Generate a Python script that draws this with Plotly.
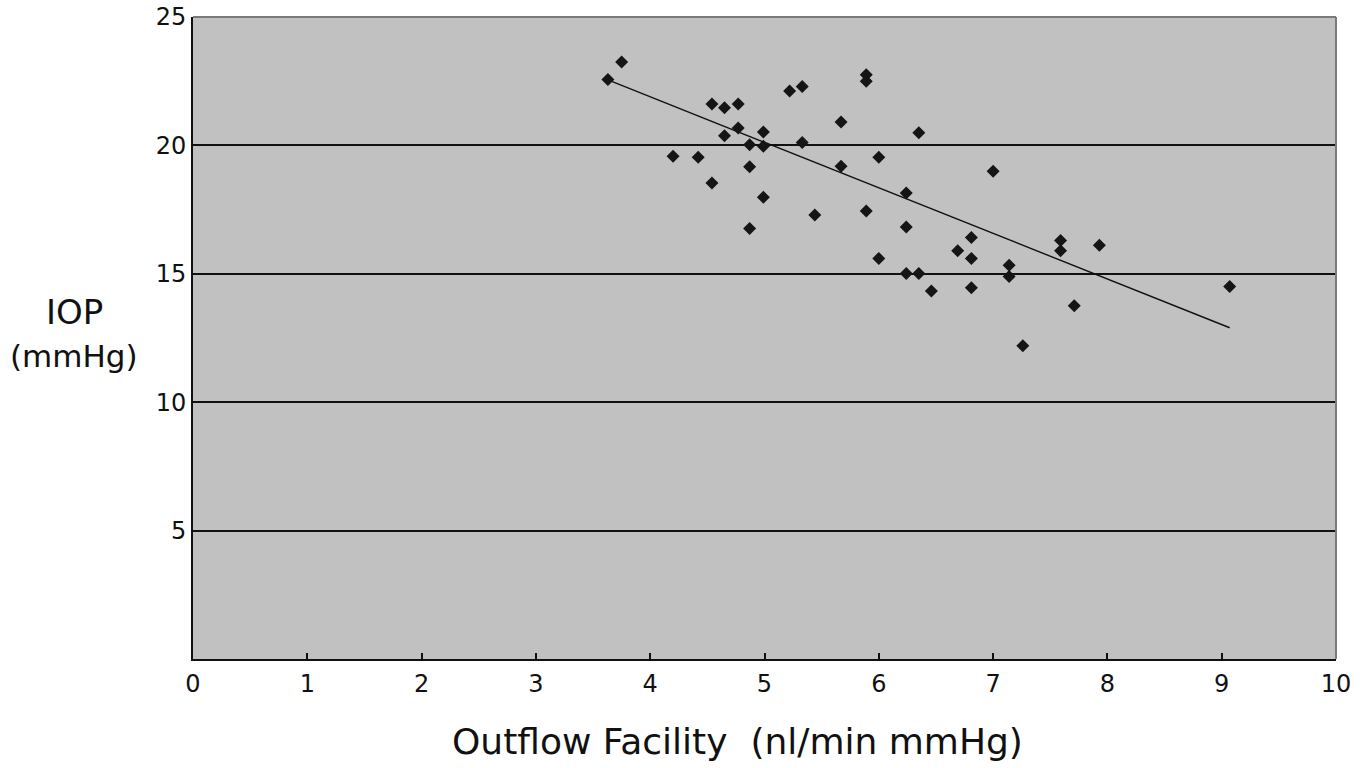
import plotly.graph_objects as go

# Outflow facility (nl/min mmHg)
facility = [3.63, 3.75, 4.20, 4.42, 4.54, 4.54, 4.65, 4.65, 4.77, 4.77,
            4.87, 4.87, 4.87, 4.99, 4.99, 4.99, 5.22, 5.33, 5.33, 5.44,
            5.67, 5.67, 5.89, 5.89, 5.89, 6.00, 6.00, 6.24, 6.24, 6.24,
            6.35, 6.35, 6.46, 6.69, 6.81, 6.81, 6.81, 7.00, 7.14, 7.14,
            7.26, 7.59, 7.59, 7.71, 7.93, 9.07]
# IOP (mmHg)
iop = [22.57, 23.25, 19.58, 19.54, 21.61, 18.54, 21.47, 20.38, 21.61, 20.68,
       20.03, 19.17, 16.76, 20.52, 19.97, 17.98, 22.12, 22.29, 20.11, 17.29,
       20.91, 19.19, 22.75, 22.50, 17.45, 19.54, 15.60, 18.15, 16.82, 15.01,
       20.49, 15.01, 14.33, 15.90, 16.41, 15.60, 14.46, 18.99, 15.33, 14.89,
       12.20, 16.30, 15.90, 13.76, 16.11, 14.51]

# linear trend line as drawn in the original
trend_x = [3.63, 9.07]
trend_y = [22.55, 12.90]

x_ticks = [0, 1, 2, 3, 4, 5, 6, 7, 8, 9, 10]
y_ticks = [5, 10, 15, 20, 25]

x_title = "Outflow Facility  (nl/min mmHg)"
y_title_main = "IOP"
y_title_unit = "(mmHg)"

FONT = "DejaVu Sans"
INK = "#111111"

fig = go.Figure()
fig.add_trace(go.Scatter(
    x=trend_x, y=trend_y, mode="lines",
    line=dict(color=INK, width=1.4),
    hoverinfo="skip", showlegend=False))
fig.add_trace(go.Scatter(
    x=facility, y=iop, mode="markers",
    marker=dict(symbol="diamond", size=10, color="#151515"),
    showlegend=False))

fig.update_layout(
    width=1368, height=768,
    margin=dict(l=193, r=32, t=17, b=109),
    paper_bgcolor="white",
    plot_bgcolor="#c1c1c1",
    font=dict(family=FONT, color=INK, size=24),
    xaxis=dict(
        range=[0, 10], tickvals=x_ticks, ticktext=[str(v) for v in x_ticks],
        automargin=False,
        showgrid=False, zeroline=False,
        showline=True, linecolor=INK, linewidth=2,
        ticks="inside", ticklen=6, tickwidth=2, tickcolor=INK,
        ticklabelstandoff=2,
        tickfont=dict(family=FONT, size=24, color=INK),
    ),
    yaxis=dict(
        range=[0, 25], tickvals=y_ticks, ticktext=[str(v) for v in y_ticks],
        automargin=False,
        showgrid=True, gridcolor=INK, gridwidth=2,
        zeroline=False,
        showline=True, linecolor=INK, linewidth=2,
        ticks="inside", ticklen=5, tickwidth=1, tickcolor=INK,
        ticklabelstandoff=0,
        tickfont=dict(family=FONT, size=24, color=INK),
    ),
    shapes=[
        dict(type="line", xref="paper", yref="paper", x0=0, x1=1, y0=1, y1=1,
             line=dict(color="#7a7a7a", width=2)),
        dict(type="line", xref="paper", yref="paper", x0=1, x1=1, y0=0, y1=1,
             line=dict(color="#7a7a7a", width=2)),
    ],
    annotations=[
        dict(text=y_title_main, xref="paper", yref="paper", x=-0.104, y=0.540,
             showarrow=False, xanchor="center", yanchor="middle",
             font=dict(family=FONT, size=34, color=INK)),
        dict(text=y_title_unit, xref="paper", yref="paper", x=-0.104, y=0.472,
             showarrow=False, xanchor="center", yanchor="middle",
             font=dict(family=FONT, size=31, color=INK)),
        dict(text=x_title, xref="paper", yref="paper", x=0.476, y=-0.129,
             showarrow=False, xanchor="center", yanchor="middle",
             font=dict(family=FONT, size=36, color=INK)),
    ],
)

fig.write_html("out.html")
